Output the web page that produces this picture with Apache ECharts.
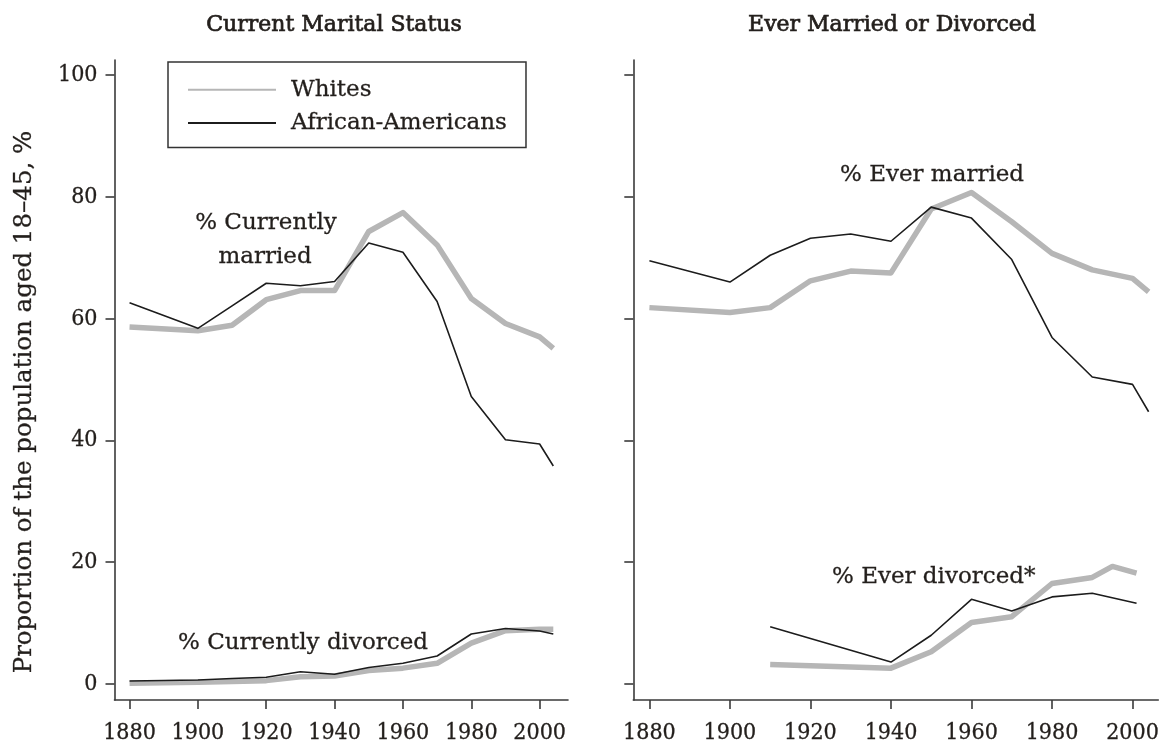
<!DOCTYPE html>
<html><head><meta charset="utf-8">
<script src="https://cdn.jsdelivr.net/npm/echarts@6/dist/echarts.min.js"></script>
<style>html,body{margin:0;padding:0;background:#fff}#c{width:1162px;height:746px}</style>
</head><body><div id="c"></div>
<script>
// ---- Data ----
const tickYears = [1880, 1900, 1920, 1940, 1960, 1980, 2000];
const tickValues = [0, 20, 40, 60, 80, 100];

// Panel 1: Current marital status
const marriedYears = [1880, 1900, 1910, 1920, 1930, 1940, 1950, 1960, 1970, 1980, 1990, 2000, 2004];
const marriedWhites = [58.6, 58.0, 58.9, 63.1, 64.6, 64.6, 74.3, 77.4, 72.1, 63.3, 59.2, 57.0, 55.1];
const marriedBlacks = [62.6, 58.4, 62.1, 65.8, 65.4, 66.1, 72.4, 70.9, 62.8, 47.2, 40.1, 39.4, 35.8];
const divorcedWhites = [0.1, 0.3, 0.4, 0.55, 1.2, 1.3, 2.2, 2.6, 3.4, 6.7, 8.75, 9.0, 9.0];
const divorcedBlacks = [0.5, 0.65, 0.9, 1.1, 2.0, 1.6, 2.7, 3.4, 4.6, 8.2, 9.1, 8.7, 8.2];

// Panel 2: Ever married or divorced
const everMarriedWhites = [61.8, 61.0, 61.8, 66.2, 67.8, 67.5, 78.0, 80.7, 75.9, 70.7, 68.0, 66.6, 64.4];
const everMarriedBlacks = [69.5, 66.0, 70.4, 73.2, 73.9, 72.7, 78.3, 76.5, 69.7, 56.9, 50.4, 49.2, 44.7];
const everDivWhitesYears = [1910, 1940, 1950, 1960, 1970, 1980, 1990, 1995, 2001];
const everDivWhites = [3.2, 2.6, 5.3, 10.1, 11.05, 16.5, 17.5, 19.3, 18.2];
const everDivBlacksYears = [1910, 1940, 1950, 1960, 1970, 1980, 1990, 2001];
const everDivBlacks = [9.4, 3.6, 8.0, 13.9, 12.0, 14.3, 14.9, 13.25];

const pairs = (xs, ys) => xs.map((x, i) => [x, ys[i]]);

// ---- Styling ----
const FONT = 'DejaVu Serif';
const TXT = '#231f1c';
const AX = '#3a3a3a';
const GRAY = '#b6b6b6';
const BLACK = '#1c1c1c';

function xAxis(gi, min, max) {
  return {
    type: 'value', gridIndex: gi, min: min, max: max,
    splitLine: { show: false },
    axisLine: { onZero: false, lineStyle: { color: AX, width: 1.6 } },
    axisTick: { customValues: tickYears, length: 9, lineStyle: { color: AX, width: 1.6 } },
    axisLabel: { customValues: tickYears, formatter: v => String(v), margin: 22, fontFamily: 'DejaVu Serif Condensed', fontSize: 23, color: TXT, textBorderColor: TXT, textBorderWidth: 0.3 }
  };
}
function yAxis(gi, showLabels) {
  return {
    type: 'value', gridIndex: gi, min: -2.63, max: 102.46,
    splitLine: { show: false },
    axisLine: { onZero: false, lineStyle: { color: AX, width: 1.6 } },
    axisTick: { customValues: tickValues, length: 9, lineStyle: { color: AX, width: 1.6 } },
    axisLabel: { show: showLabels, customValues: tickValues, formatter: v => String(v), margin: 17, fontFamily: 'DejaVu Serif Condensed', fontSize: 23, color: TXT, textBorderColor: TXT, textBorderWidth: 0.3 }
  };
}
function line(name, gi, data, isWhite) {
  return {
    name: name, type: 'line', xAxisIndex: gi, yAxisIndex: gi, data: data,
    showSymbol: false, symbol: 'none', silent: true, animation: false,
    z: isWhite ? 2 : 3,
    lineStyle: isWhite ? { color: GRAY, width: 5.5, cap: 'butt', join: 'round' } : { color: BLACK, width: 1.6, join: 'round' },
    itemStyle: { color: isWhite ? GRAY : BLACK }
  };
}
function txt(x, y, text, size, align, extra, weight) {
  return Object.assign({
    type: 'text', x: x, y: y, silent: true,
    style: { text: text, font: size + 'px "DejaVu Serif"', fill: TXT, stroke: TXT, lineWidth: weight || 0.3, textAlign: align, textVerticalAlign: 'middle' }
  }, extra || {});
}

const chart = echarts.init(document.getElementById('c'), null, { renderer: 'canvas' });
chart.setOption({
  backgroundColor: '#ffffff',
  animation: false,
  grid: [
    { left: 114.5, top: 60, width: 453.5, height: 640 },
    { left: 633.3, top: 60, width: 526.7, height: 640 }
  ],
  xAxis: [xAxis(0, 1875.6, 2008.3), xAxis(1, 1876.0, 2006.4)],
  yAxis: [yAxis(0, true), yAxis(1, false)],
  legend: {
    data: ['Whites', 'African-Americans'],
    orient: 'vertical', left: 168, top: 62,
    padding: [16, 19, 13, 19], itemGap: 10,
    itemWidth: 88, itemHeight: 14,
    borderColor: '#333', borderWidth: 1.5,
    itemStyle: { opacity: 0 },
    textStyle: { fontFamily: FONT, fontSize: 23, color: TXT, padding: [0, 0, 0, 10], textBorderColor: TXT, textBorderWidth: 0.3 },
    selectedMode: false
  },
  series: [
    line('Whites', 0, pairs(marriedYears, marriedWhites), true),
    line('Whites', 0, pairs(marriedYears, divorcedWhites), true),
    line('African-Americans', 0, pairs(marriedYears, marriedBlacks), false),
    line('African-Americans', 0, pairs(marriedYears, divorcedBlacks), false),
    line('Whites', 1, pairs(marriedYears, everMarriedWhites), true),
    line('Whites', 1, pairs(everDivWhitesYears, everDivWhites), true),
    line('African-Americans', 1, pairs(marriedYears, everMarriedBlacks), false),
    line('African-Americans', 1, pairs(everDivBlacksYears, everDivBlacks), false)
  ],
  graphic: [
    txt(334, 25, 'Current Marital Status', 22, 'center', null, 0.7),
    txt(892, 25, 'Ever Married or Divorced', 22, 'center', null, 0.7),
    txt(25, 402, 'Proportion of the population aged 18–45, %', 24.5, 'center', { rotation: Math.PI / 2 }),
    txt(266, 223, '% Currently', 23, 'center'),
    txt(265, 257, 'married', 23, 'center'),
    txt(178, 643, '% Currently divorced', 23, 'left'),
    txt(840, 175, '% Ever married', 23, 'left'),
    txt(832, 577, '% Ever divorced*', 23, 'left')
  ]
});
</script></body></html>
